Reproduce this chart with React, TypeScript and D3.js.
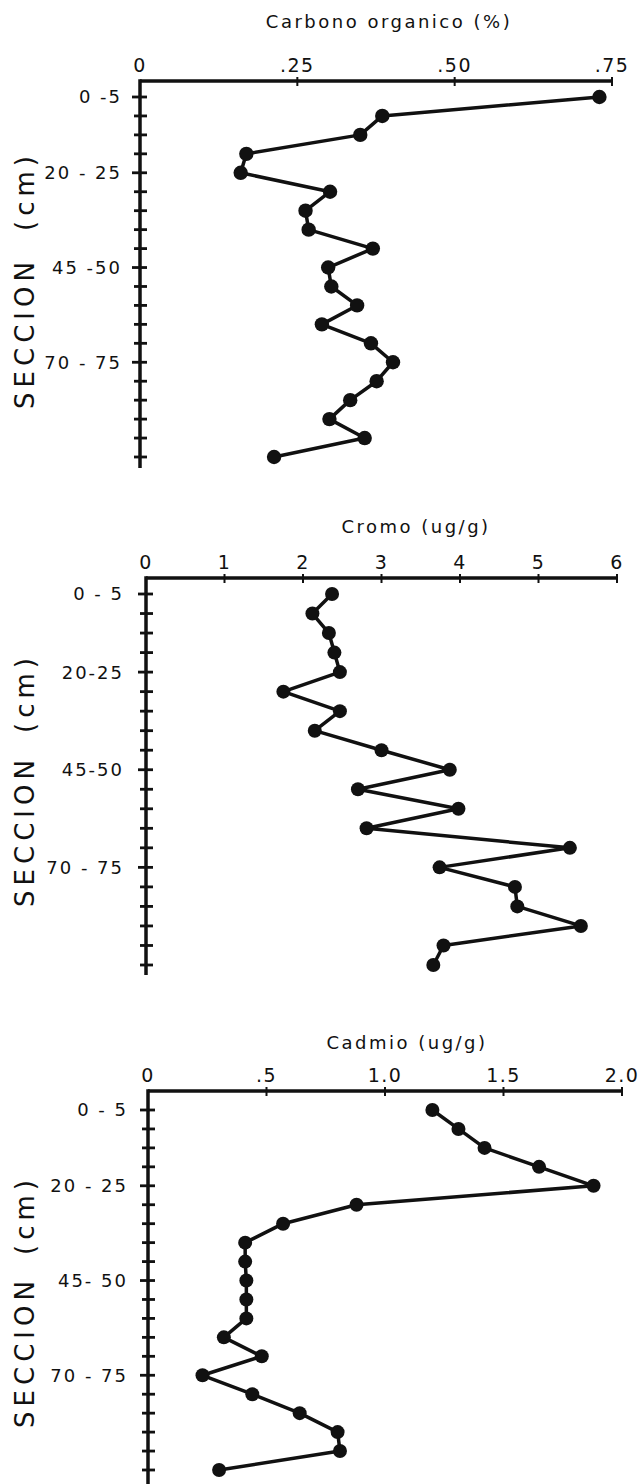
import React from "react";
import * as d3 from "d3";

// depth sections (cm), one sample per section
const sections = [
  "0-5", "5-10", "10-15", "15-20", "20-25", "25-30", "30-35", "35-40", "40-45", "45-50",
  "50-55", "55-60", "60-65", "65-70", "70-75", "75-80", "80-85", "85-90", "90-95", "95-100"
];

const carbono = [0.73, 0.385, 0.35, 0.169, 0.16, 0.302, 0.263, 0.268, 0.37, 0.299,
  0.304, 0.345, 0.289, 0.367, 0.402, 0.376, 0.334, 0.301, 0.357, 0.213];
const cromo = [2.37, 2.12, 2.33, 2.4, 2.47, 1.75, 2.47, 2.15, 3.0, 3.87,
  2.7, 3.98, 2.81, 5.4, 3.74, 4.7, 4.73, 5.54, 3.79, 3.66];
const cadmio = [1.2, 1.31, 1.42, 1.65, 1.88, 0.88, 0.57, 0.41, 0.41, 0.415,
  0.415, 0.415, 0.32, 0.48, 0.23, 0.44, 0.64, 0.8, 0.81, 0.3];

const carbonoTicks = [0, 0.25, 0.5, 0.75];
const carbonoTickText = ["0", ".25", ".50", ".75"];
const cromoTicks = [0, 1, 2, 3, 4, 5, 6];
const cromoTickText = ["0", "1", "2", "3", "4", "5", "6"];
const cadmioTicks = [0, 0.5, 1, 1.5, 2];
const cadmioTickText = ["0", ".5", "1.0", "1.5", "2.0"];

const labeledSections = ["0-5", "20-25", "45-50", "70-75"];
const carbonoDepthText = ["0 -5", "20 - 25", "45 -50", "70 - 75"];
const cromoDepthText = ["0 - 5", "20-25", "45-50", "70 - 75"];
const cadmioDepthText = ["0 - 5", "20 - 25", "45- 50", "70 - 75"];

const INK = "#111";
const FONT = "'DejaVu Sans', sans-serif";

function Profile(props) {
  const {
    title, titleX, titleY, values, ticks, tickText, depthText,
    x0, x1, axisY, y0, y1, yEnd, labelGap, seccion, cm, r
  } = props;
  const x = d3.scaleLinear().domain([ticks[0], ticks[ticks.length - 1]]).range([x0, x1]);
  const y = d3.scalePoint().domain(sections).range([y0, y1]);
  const line = d3.line<number>().x(d => x(d)).y((d, i) => y(sections[i]));

  return (
    <g>
      <text x={titleX} y={titleY} textAnchor="middle" fontSize={18} letterSpacing={2.5}
        fontFamily={FONT} fill={INK}>{title}</text>
      {ticks.map((t, i) => (
        <text key={"tl" + i} x={x(t)} y={axisY - 9} textAnchor="middle" fontSize={19}
          letterSpacing={1.5} fontFamily={FONT} fill={INK}>{tickText[i]}</text>
      ))}
      <line x1={x0} x2={x1} y1={axisY} y2={axisY} stroke={INK} strokeWidth={3.5} />
      {ticks.slice(1).map((t, i) => (
        <line key={"xt" + i} x1={x(t)} x2={x(t)} y1={axisY - 4} y2={axisY + 5}
          stroke={INK} strokeWidth={2} />
      ))}
      <line x1={x0} x2={x0} y1={axisY - 1.75} y2={yEnd} stroke={INK} strokeWidth={3.5} />
      {sections.map(s => (
        <line key={"yt" + s} x1={x0 - (labeledSections.includes(s) ? 8 : 6)} x2={x0 + 7}
          y1={y(s)} y2={y(s)} stroke={INK} strokeWidth={2.8} />
      ))}
      {labeledSections.map((s, i) => (
        <text key={"yl" + s} x={x0 - labelGap} y={y(s)} dy="0.36em" textAnchor="end"
          fontSize={18} letterSpacing={2} fontFamily={FONT} fill={INK}>{depthText[i]}</text>
      ))}
      <g transform={`translate(34,${seccion}) rotate(-90)`}>
        <text textAnchor="middle" fontSize={26} letterSpacing={5} fontFamily={FONT}
          fill={INK}>SECCION</text>
      </g>
      <g transform={`translate(34,${cm}) rotate(-90)`}>
        <text textAnchor="middle" fontSize={26} letterSpacing={5} fontFamily={FONT}
          fill={INK}>(cm)</text>
      </g>
      <path d={line(values) || ""} fill="none" stroke={INK} strokeWidth={3.5}
        strokeLinejoin="round" />
      {values.map((v, i) => (
        <circle key={"p" + i} cx={x(v)} cy={y(sections[i])} r={r} fill={INK} />
      ))}
    </g>
  );
}

export default function App() {
  return (
    <svg width={638} height={1484} style={{ position: "absolute", left: 0, top: 0, background: "#fff" }}>
      <Profile title="Carbono organico (%)" titleX={389} titleY={28}
        values={carbono} ticks={carbonoTicks} tickText={carbonoTickText} depthText={carbonoDepthText}
        x0={140} x1={612} axisY={81} y0={97} y1={457} yEnd={468} labelGap={18}
        seccion={333} cm={191} r={7.2} />
      <Profile title="Cromo (ug/g)" titleX={416} titleY={533}
        values={cromo} ticks={cromoTicks} tickText={cromoTickText} depthText={cromoDepthText}
        x0={146} x1={617} axisY={578} y0={594} y1={965} yEnd={975} labelGap={22}
        seccion={831} cm={693} r={7} />
      <Profile title="Cadmio (ug/g)" titleX={407} titleY={1049}
        values={cadmio} ticks={cadmioTicks} tickText={cadmioTickText} depthText={cadmioDepthText}
        x0={148} x1={622} axisY={1091} y0={1110} y1={1470} yEnd={1484} labelGap={20}
        seccion={1352} cm={1215} r={7} />
    </svg>
  );
}
